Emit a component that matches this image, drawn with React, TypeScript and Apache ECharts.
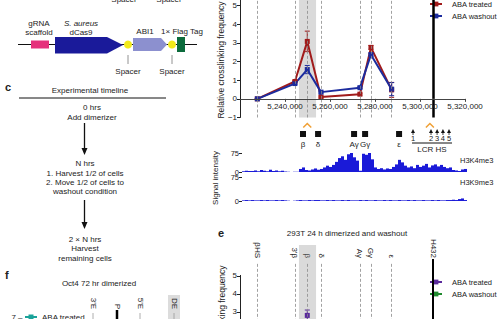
import React, { useEffect, useRef } from 'react';
import * as echarts from 'echarts';

const FONT = '"Liberation Sans", Arial, Helvetica, sans-serif';
const TXT = '#222';
const RED = '#a11b1b';
const BLUE = '#1c2c9e';
const PURPLE = '#5a2a9c';
const GREEN = '#1f8a2e';
const TEAL = '#1aa39a';
const TRACK = '#1a1ad8';
const BAND = 'rgba(150,150,150,0.35)';

// genomic axis
const xMin = 5220000;
const xMax = 5320000;
const xStep = 20000;
const yTicksUpper = [0, 1, 2, 3, 4, 5];
const yTicksLower = [-1];
const yTicksE = [3, 4, 5];

// probes (panel d and e share them)
const probeCoords = [5227700, 5244400, 5249900, 5256000, 5273300, 5278200, 5287400];
const probeNamesE = ['βHS', "3'β", 'β', 'δ', 'Aγ', 'Gγ', 'ε'];
const treated = [0, 0.93, 3.08, 0.1, 0.25, 2.76, 0.48];
const washout = [0, 0.82, 1.57, 0.36, 0.6, 2.37, 0.52];
const treatedErr = [0, 0.05, 0.55, 0.05, 0.05, 0.1, 0.4];
const washoutErr = [0, 0.05, 0.22, 0.05, 0.05, 0.08, 0.35];
const viewpointBand = [5246200, 5253800];
const h432Coord = 5305800;

// panel e (only the visible point)
const eTreatedProbe = [5249900];
const eTreatedValues = [2.8];
const eTreatedErr = [0.3];
const eWashoutValues: number[][] = [];

// gene annotation
const genes = ['β', 'δ', 'Aγ', 'Gγ', 'ε'];
const geneCoords = [5248000, 5254700, 5270700, 5275600, 5290700];
const lcrHS = ['1', '2', '3', '4', '5'];
const lcrCoords = [5296900, 5304900, 5307600, 5310200, 5312900];
const caretCoords = [5249900, 5304400];

// ChIP tracks (0-75)
const h3k4me3 = [
  3, 5, 4, 4, 6, 3, 8, 5, 3, 9, 4, 6, 3, 5,
  2, 1, 0, 1, 1,
  12, 18, 8,
  6, 10, 14, 9, 12, 18, 25, 20, 28,
  40, 55, 62, 48, 70, 75, 58, 45,
  5,
  72, 68, 75, 50,
  18, 12, 15, 10, 14, 12,
  20, 30, 48, 38, 25, 18,
  22, 15, 28, 20, 25, 32, 18, 26, 30, 22, 28, 20, 15, 18,
  8, 6, 4, 10, 12,
];
const h3k9me3 = [
  2, 3, 2, 3, 2, 2, 3, 2, 3, 2, 2, 3, 2, 3, 2,
  1, 0, 1, 2, 3, 2, 2, 3, 2, 3, 3, 2, 2, 3, 2,
  3, 2, 2, 3, 2, 3, 2, 2, 2, 3, 2, 3, 2, 2, 3,
  2, 2, 3, 2, 3, 2, 2, 3, 2, 2, 3, 2, 3, 2, 2,
  3, 2, 2, 3, 2, 3, 2, 2, 3, 3, 4, 3, 6, 8, 3,
];
const trackBins = h3k4me3.map((_, i) => String(i));

const fmtMinus = (v: number) => String(v).replace('-', '−');

function txt(x: number, y: number, text: string, size = 8, opts: any = {}) {
  const align = opts.align || 'center';
  const va = opts.va || 'middle';
  return {
    type: 'text',
    x,
    y,
    rotation: opts.rotation || 0,
    silent: true,
    style: {
      text,
      fill: opts.fill || TXT,
      font: `${opts.style || ''} ${opts.weight || 'normal'} ${size}px ${FONT}`,
      align,
      verticalAlign: va,
      textAlign: align,
      textVerticalAlign: va,
    },
  };
}
function ln(x1: number, y1: number, x2: number, y2: number, stroke = '#111', lineWidth = 1) {
  return { type: 'line', silent: true, shape: { x1, y1, x2, y2 }, style: { stroke, lineWidth } };
}
function poly(points: number[][], fill: string) {
  return { type: 'polygon', silent: true, shape: { points }, style: { fill } };
}

function errSeries(name: string, xi: number, yi: number, xs: number[], vals: number[], errs: number[], color: string) {
  return {
    type: 'custom',
    name: name + '-err',
    xAxisIndex: xi,
    yAxisIndex: yi,
    z: 4,
    silent: true,
    clip: false,
    data: xs.map((x, i) => [x, vals[i] - errs[i], vals[i] + errs[i]]),
    renderItem: (_p: any, api: any) => {
      const x = api.value(0);
      const lo = api.coord([x, api.value(1)]);
      const hi = api.coord([x, api.value(2)]);
      const st = { stroke: color, lineWidth: 1 };
      return {
        type: 'group',
        children: [
          { type: 'line', shape: { x1: lo[0], y1: lo[1], x2: hi[0], y2: hi[1] }, style: st },
          { type: 'line', shape: { x1: hi[0] - 2.5, y1: hi[1], x2: hi[0] + 2.5, y2: hi[1] }, style: st },
          { type: 'line', shape: { x1: lo[0] - 2.5, y1: lo[1], x2: lo[0] + 2.5, y2: lo[1] }, style: st },
        ],
      };
    },
  };
}

const dashed = { type: [3, 2], color: '#8a8a8a', width: 0.8 };
const labelStyle = { fontSize: 8, color: TXT, fontFamily: FONT };

export default function App() {
  const ref = useRef<HTMLDivElement>(null);
  useEffect(() => {
    if (!ref.current) return;
    const chart = echarts.init(ref.current, null, { renderer: 'svg' });
    const unit = 18.65;
    const upperH = 5.3 * unit;
    const eMin = 2.6;
    const eMax = 6.72;
    const gridBase = { outerBoundsMode: 'none', containLabel: false };
    const option: any = {
      animation: false,
      textStyle: { fontFamily: FONT },
      grid: [
        { ...gridBase, left: 240, width: 225, top: 0, height: upperH },
        { ...gridBase, left: 242, width: 225, top: 153, height: 19 },
        { ...gridBase, left: 242, width: 225, top: 177, height: 24 },
        { ...gridBase, left: 240, width: 225, top: 245, height: 74 },
        { ...gridBase, left: 240, width: 225, top: upperH, height: unit },
      ],
      xAxis: [
        {
          type: 'value', gridIndex: 0, min: xMin, max: xMax, interval: xStep, position: 'bottom', z: 10,
          axisLine: { onZero: false, lineStyle: { color: '#444', width: 1 } },
          axisTick: { length: 3, lineStyle: { color: '#444' } },
          axisLabel: {
            ...labelStyle, showMinLabel: false, margin: 4,
            formatter: (v: number) => v.toLocaleString('en-US'),
          },
          splitLine: { show: false },
        },
        { type: 'category', gridIndex: 1, data: trackBins, show: false },
        { type: 'category', gridIndex: 2, data: trackBins, show: false },
        { type: 'value', gridIndex: 3, min: xMin, max: xMax, show: false },
        { type: 'value', gridIndex: 4, min: xMin, max: xMax, show: false },
      ],
      yAxis: [
        {
          type: 'value', gridIndex: 0, min: 0, max: 5.3, interval: 1,
          axisLine: { show: true, lineStyle: { color: '#222' } },
          splitLine: { show: false },
          axisTick: { length: 3, customValues: yTicksUpper, lineStyle: { color: '#222' } },
          axisLabel: { ...labelStyle, customValues: yTicksUpper, formatter: fmtMinus, margin: 3 },
        },
        {
          type: 'value', gridIndex: 1, min: 0, max: 75, interval: 75,
          axisLine: { show: false }, splitLine: { show: false },
          axisTick: { show: true, length: 3, lineStyle: { color: '#222' } },
          axisLabel: { ...labelStyle, fontSize: 7.5, margin: 3 },
        },
        {
          type: 'value', gridIndex: 2, min: 0, max: 75, interval: 75,
          axisLine: { show: false }, splitLine: { show: false },
          axisTick: { show: true, length: 3, lineStyle: { color: '#222' } },
          axisLabel: { ...labelStyle, fontSize: 7.5, margin: 3 },
        },
        {
          type: 'value', gridIndex: 3, min: eMin, max: eMax,
          axisLine: { show: false }, splitLine: { show: false },
          axisTick: { length: 3, customValues: yTicksE, lineStyle: { color: '#222' } },
          axisLabel: { ...labelStyle, customValues: yTicksE, formatter: fmtMinus, margin: 3 },
        },
        {
          type: 'value', gridIndex: 4, min: -1, max: 0, interval: 1,
          axisLine: { show: true, lineStyle: { color: '#222' } },
          splitLine: { show: false },
          axisTick: { length: 3, customValues: yTicksLower, lineStyle: { color: '#222' } },
          axisLabel: { ...labelStyle, customValues: yTicksLower, formatter: fmtMinus, margin: 3 },
        },
      ],
      legend: [
        {
          left: 429, top: 0, orient: 'vertical', padding: 0, itemGap: 4,
          itemWidth: 12, itemHeight: 6,
          data: ['ABA treated', 'ABA washout'],
          textStyle: { ...labelStyle, fontSize: 7.5, padding: [0, 0, 0, 5] },
        },
        {
          left: 429, top: 278, orient: 'vertical', padding: 0, itemGap: 4,
          itemWidth: 12, itemHeight: 6,
          data: [
            { name: 'ABA treated', itemStyle: { color: PURPLE }, lineStyle: { color: PURPLE } },
            { name: 'ABA washout', itemStyle: { color: GREEN }, lineStyle: { color: GREEN } },
          ],
          textStyle: { ...labelStyle, fontSize: 7.5, padding: [0, 0, 0, 5] },
        },
      ],
      series: [
        {
          type: 'line', name: 'ABA treated', xAxisIndex: 0, yAxisIndex: 0, z: 3, clip: false,
          data: probeCoords.map((x, i) => [x, treated[i]]),
          symbol: 'rect', symbolSize: 5, color: RED, lineStyle: { width: 2, color: RED },
          markArea: {
            silent: true, itemStyle: { color: BAND },
            data: [[{ xAxis: viewpointBand[0] }, { xAxis: viewpointBand[1] }]],
          },
          markLine: {
            silent: true, symbol: ['none', 'none'], label: { show: false },
            lineStyle: dashed,
            data: [
              ...probeCoords.map((x) => ({ xAxis: x })),
              { xAxis: h432Coord, lineStyle: { type: 'solid', color: '#000', width: 2.5 } },
            ],
          },
        },
        {
          type: 'line', name: 'ABA washout', xAxisIndex: 0, yAxisIndex: 0, z: 3, clip: false,
          data: probeCoords.map((x, i) => [x, washout[i]]),
          symbol: 'rect', symbolSize: 5, color: BLUE, lineStyle: { width: 2, color: BLUE },
        },
        errSeries('ABA treated', 0, 0, probeCoords, treated, treatedErr, RED),
        errSeries('ABA washout', 0, 0, probeCoords, washout, washoutErr, BLUE),
        {
          // continuation of guide lines below zero
          type: 'line', name: 'guides', xAxisIndex: 4, yAxisIndex: 4, data: [], silent: true, z: 1,
          markArea: {
            silent: true, itemStyle: { color: BAND },
            data: [[{ xAxis: viewpointBand[0] }, { xAxis: viewpointBand[1] }]],
          },
          markLine: {
            silent: true, symbol: ['none', 'none'], label: { show: false },
            lineStyle: dashed,
            data: [
              ...probeCoords.map((x) => ({ xAxis: x })),
              { xAxis: h432Coord, lineStyle: { type: 'solid', color: '#000', width: 2.5 } },
            ],
          },
        },
        {
          type: 'bar', name: 'H3K4me3', xAxisIndex: 1, yAxisIndex: 1, data: h3k4me3,
          barCategoryGap: '0%', itemStyle: { color: TRACK }, silent: true,
        },
        {
          type: 'bar', name: 'H3K9me3', xAxisIndex: 2, yAxisIndex: 2, data: h3k9me3,
          barCategoryGap: '0%', itemStyle: { color: TRACK }, silent: true,
        },
        {
          type: 'line', name: 'ABA treated', xAxisIndex: 3, yAxisIndex: 3, z: 3,
          data: eTreatedProbe.map((x, i) => [x, eTreatedValues[i]]),
          symbol: 'rect', symbolSize: 5, color: PURPLE, lineStyle: { width: 2, color: PURPLE },
          markArea: {
            silent: true, itemStyle: { color: BAND },
            data: [[{ xAxis: viewpointBand[0] }, { xAxis: viewpointBand[1] }]],
          },
          markLine: {
            silent: true, symbol: ['none', 'none'], label: { show: false },
            lineStyle: dashed,
            data: [
              ...probeCoords.map((x) => [{ coord: [x, 5.67] }, { coord: [x, eMin] }]),
              [{ coord: [h432Coord, 5.94], lineStyle: { type: 'solid', color: '#000', width: 2 } }, { coord: [h432Coord, eMin] }],
              [{ coord: [xMin, 5.05], lineStyle: { type: 'solid', color: '#222', width: 1 } }, { coord: [xMin, eMin] }],
            ],
          },
        },
        {
          type: 'line', name: 'ABA washout', xAxisIndex: 3, yAxisIndex: 3, z: 3,
          data: eWashoutValues, symbol: 'rect', symbolSize: 5, color: GREEN, lineStyle: { width: 2, color: GREEN },
        },
        errSeries('ABA treated e', 3, 3, eTreatedProbe, eTreatedValues, eTreatedErr, PURPLE),
      ],
    };
    chart.setOption(option);

    const px = (v: number) => chart.convertToPixel({ gridIndex: 0 }, [v, 0])[0] as number;
    const g: any[] = [];

    // --- construct diagram (top left)
    g.push(txt(124, -1, 'Spacer'), txt(169, -1, 'Spacer'));
    g.push(txt(39, 23, 'gRNA'), txt(39, 32, 'scaffold'));
    g.push(txt(81, 23, 'S. aureus', 8, { style: 'italic' }), txt(81, 32, 'dCas9'));
    g.push(txt(145, 31, 'ABI1'), txt(182, 31, '1× Flag Tag'));
    g.push(ln(18, 44.5, 197, 44.5, '#111', 1));
    g.push({ type: 'rect', silent: true, shape: { x: 31, y: 40.5, width: 18, height: 8 }, style: { fill: '#e5317b' } });
    g.push(poly([[55, 37], [107, 37], [123, 45], [107, 53.5], [55, 53.5]], '#1a1a9a'));
    g.push({ type: 'circle', silent: true, shape: { cx: 128, cy: 44.5, r: 4 }, style: { fill: '#f2ea1a' } });
    g.push(poly([[133, 38], [161, 38], [167, 44.5], [161, 51], [133, 51]], '#8c90cf'));
    g.push({ type: 'circle', silent: true, shape: { cx: 172, cy: 44.5, r: 4 }, style: { fill: '#f2ea1a' } });
    g.push({ type: 'rect', silent: true, shape: { x: 177, y: 37, width: 8, height: 15 }, style: { fill: '#0c6b3c' } });
    g.push(ln(128, 55, 128, 64, '#777', 0.8), ln(172, 55, 172, 64, '#777', 0.8));
    g.push(txt(128, 71, 'Spacer'), txt(172, 71, 'Spacer'));

    // --- timeline (c)
    g.push(txt(5, 87, 'c', 11, { weight: 'bold', align: 'left' }));
    g.push(txt(90, 90, 'Experimental timeline'));
    g.push(ln(19, 98, 166, 98, '#111', 1));
    g.push(txt(92, 107, '0 hrs'), txt(92, 117, 'Add dimerizer'));
    g.push(ln(84.5, 123, 84.5, 149, '#111', 1.3), poly([[81.5, 148], [87.5, 148], [84.5, 155]], '#111'));
    g.push(txt(85, 163, 'N hrs'), txt(85, 173, '1. Harvest 1/2 of cells'));
    g.push(txt(85, 182, '2. Move 1/2 of cells to'), txt(85, 191, 'washout condition'));
    g.push(ln(84.5, 200, 84.5, 223, '#111', 1.3), poly([[81.5, 222], [87.5, 222], [84.5, 229]], '#111'));
    g.push(txt(85, 239, '2 × N hrs'), txt(85, 248, 'Harvest'), txt(85, 258, 'remaining cells'));

    // --- panel f (partial)
    g.push(txt(5, 275, 'f', 11, { weight: 'bold', align: 'left' }));
    g.push(txt(99, 283, 'Oct4 72 hr dimerized'));
    g.push({ type: 'rect', silent: true, shape: { x: 168, y: 295, width: 12, height: 24 }, style: { fill: '#dcdcdc' } });
    const fLabels = [["3'E", 93], ['P', 117], ["5'E", 140], ['DE', 174]];
    fLabels.forEach(([t, x]) => g.push(txt(x as number, 309, t as string, 8, { rotation: -Math.PI / 2, align: 'right' })));
    g.push(ln(93, 313, 93, 319, '#999', 0.8), ln(140, 313, 140, 319, '#999', 0.8), ln(174, 313, 174, 319, '#999', 0.8));
    g.push(ln(117, 310, 117, 319, '#000', 2.5));
    g.push(txt(17, 317, '7 –'));
    g.push(ln(25, 317, 37, 317, TEAL, 2), { type: 'rect', silent: true, shape: { x: 28.5, y: 314.5, width: 5, height: 5 }, style: { fill: TEAL } });
    g.push(txt(42, 317, 'ABA treated', 8, { align: 'left' }));

    // --- main chart y title
    g.push(txt(221, 60, 'Relative crosslinking frequency', 8.5, { rotation: Math.PI / 2 }));

    // --- gene annotation (d)
    caretCoords.forEach((c) => {
      const x = px(c);
      g.push({ type: 'polyline', silent: true, shape: { points: [[x - 4, 127.5], [x, 123.5], [x + 4, 127.5]] }, style: { stroke: '#f0a035', lineWidth: 1.5, fill: null } });
    });
    genes.forEach((name, i) => {
      const x = px(geneCoords[i]);
      g.push({ type: 'rect', silent: true, shape: { x: x - 3, y: 131, width: 6, height: 6 }, style: { fill: '#111' } });
      g.push(txt(x, 144.5, name, 8));
    });
    lcrHS.forEach((name, i) => {
      const x = px(lcrCoords[i]);
      g.push(poly([[x - 2, 133], [x + 2, 133], [x, 129]], '#111'));
      g.push(ln(x, 133, x, 135, '#111', 0.8));
      g.push(txt(x, 138.5, name, 7.5));
    });
    const l0 = px(lcrCoords[0]);
    const l4 = px(lcrCoords[lcrCoords.length - 1]);
    g.push(ln(l0 - 1, 143, l4 + 3, 143, '#111', 1));
    g.push(txt((l0 + l4) / 2 + 1, 149.5, 'LCR HS', 8));
    g.push(txt(460, 160, 'H3K4me3', 7.5, { align: 'left' }));
    g.push(txt(460, 182, 'H3K9me3', 7.5, { align: 'left' }));
    g.push(txt(215, 178, 'Signal intensity', 8, { rotation: Math.PI / 2 }));

    // --- panel e
    g.push(txt(218, 233, 'e', 11, { weight: 'bold', align: 'left' }));
    g.push(txt(347, 233, '293T 24 h dimerized and washout', 8));
    probeNamesE.forEach((name, i) => {
      g.push(txt(px(probeCoords[i]), 258, name, 8, { rotation: -Math.PI / 2, align: 'right' }));
    });
    g.push(txt(px(h432Coord), 258, 'H432', 8, { rotation: -Math.PI / 2, align: 'right' }));
    g.push(txt(222, 324, 'Relative crosslinking frequency', 8.5, { rotation: Math.PI / 2 }));

    chart.setOption({ graphic: { elements: g } });
    return () => chart.dispose();
  }, []);
  return <div ref={ref} style={{ position: 'absolute', left: 0, top: 0, width: 500, height: 319 }} />;
}
